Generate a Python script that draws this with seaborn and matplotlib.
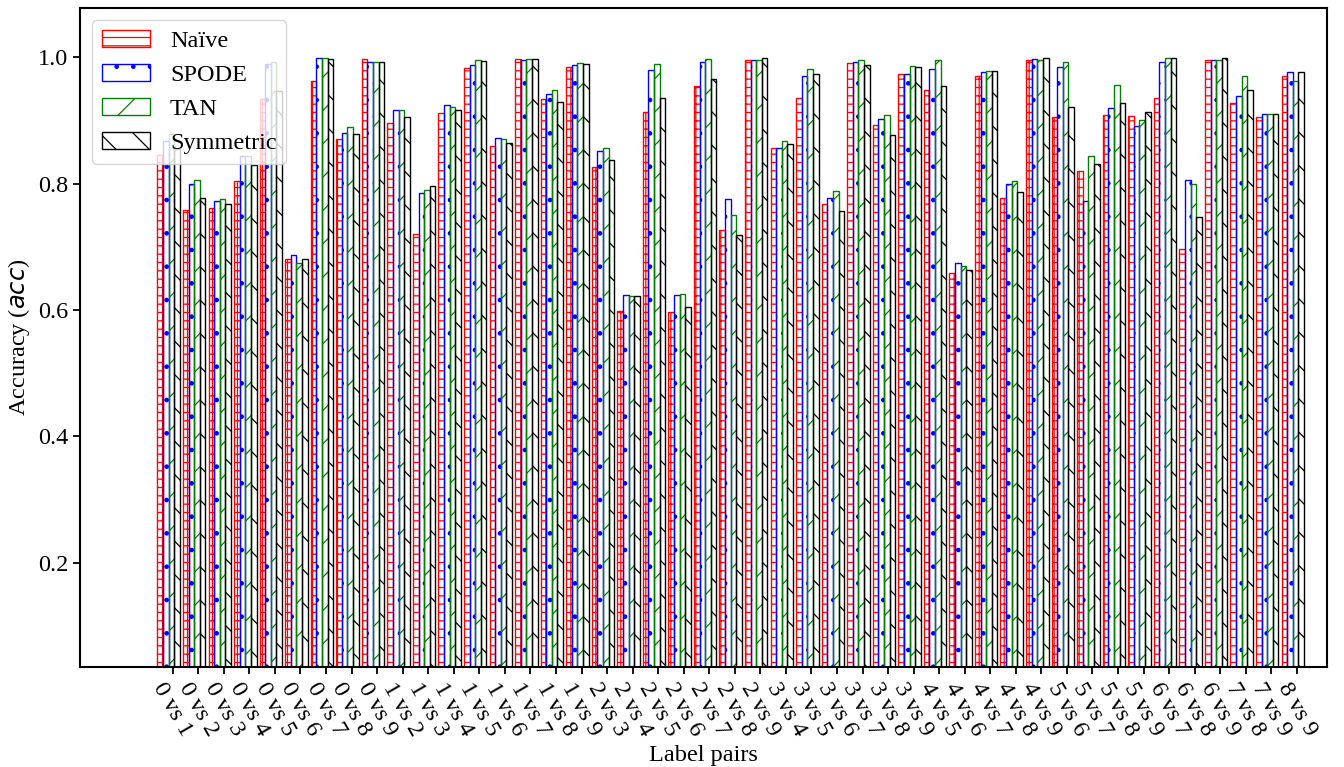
import numpy as np
import pandas as pd
import matplotlib
matplotlib.use("Agg")
import matplotlib.pyplot as plt
import seaborn as sns
from matplotlib.patches import Patch

pairs = ["0 vs 1", "0 vs 2", "0 vs 3", "0 vs 4", "0 vs 5", "0 vs 6", "0 vs 7", "0 vs 8", "0 vs 9",
         "1 vs 2", "1 vs 3", "1 vs 4", "1 vs 5", "1 vs 6", "1 vs 7", "1 vs 8", "1 vs 9",
         "2 vs 3", "2 vs 4", "2 vs 5", "2 vs 6", "2 vs 7", "2 vs 8", "2 vs 9",
         "3 vs 4", "3 vs 5", "3 vs 6", "3 vs 7", "3 vs 8", "3 vs 9",
         "4 vs 5", "4 vs 6", "4 vs 7", "4 vs 8", "4 vs 9",
         "5 vs 6", "5 vs 7", "5 vs 8", "5 vs 9",
         "6 vs 7", "6 vs 8", "6 vs 9",
         "7 vs 8", "7 vs 9",
         "8 vs 9"]

methods = ["Naïve", "SPODE", "TAN", "Symmetric"]

naive = [0.846, 0.759, 0.761, 0.804, 0.934, 0.681, 0.962, 0.871, 0.998, 0.896,
         0.720, 0.912, 0.983, 0.860, 0.998, 0.934, 0.985, 0.826, 0.599, 0.913,
         0.597, 0.954, 0.726, 0.996, 0.857, 0.936, 0.767, 0.991, 0.893, 0.974,
         0.949, 0.658, 0.971, 0.778, 0.996, 0.905, 0.820, 0.909, 0.907, 0.936,
         0.696, 0.995, 0.927, 0.906, 0.971]
spode = [0.867, 0.799, 0.772, 0.843, 0.989, 0.687, 0.999, 0.880, 0.993, 0.917,
         0.785, 0.924, 0.988, 0.872, 0.996, 0.942, 0.988, 0.852, 0.624, 0.980,
         0.623, 0.993, 0.775, 0.996, 0.856, 0.971, 0.778, 0.992, 0.902, 0.973,
         0.981, 0.675, 0.977, 0.799, 0.998, 0.984, 0.772, 0.920, 0.891, 0.992,
         0.805, 0.996, 0.938, 0.911, 0.977]
tan = [0.878, 0.805, 0.776, 0.844, 0.992, 0.674, 0.999, 0.889, 0.993, 0.917,
       0.790, 0.922, 0.996, 0.870, 0.998, 0.949, 0.991, 0.857, 0.622, 0.989,
       0.626, 0.998, 0.751, 0.996, 0.868, 0.982, 0.788, 0.996, 0.908, 0.986,
       0.995, 0.669, 0.979, 0.804, 0.996, 0.992, 0.844, 0.956, 0.900, 0.999,
       0.799, 0.996, 0.970, 0.910, 0.963]
symmetric = [0.855, 0.777, 0.768, 0.830, 0.946, 0.681, 0.998, 0.878, 0.993, 0.906,
             0.796, 0.916, 0.994, 0.864, 0.997, 0.929, 0.990, 0.838, 0.622, 0.935,
             0.605, 0.966, 0.719, 0.999, 0.863, 0.974, 0.756, 0.988, 0.877, 0.984,
             0.955, 0.664, 0.978, 0.786, 0.999, 0.922, 0.831, 0.927, 0.914, 0.999,
             0.747, 0.999, 0.948, 0.910, 0.976]

yticks = [0.2, 0.4, 0.6, 0.8, 1.0]
ytick_labels = ["0.2", "0.4", "0.6", "0.8", "1.0"]

colors = ["red", "blue", "green", "black"]
bar_hatches = ["++", ".", "/", "\\"]
legend_hatches = ["--", ".", "/", "\\"]

plt.rcParams["font.family"] = ["Liberation Serif", "DejaVu Sans"]
plt.rcParams["mathtext.fontset"] = "dejavusans"
plt.rcParams["hatch.linewidth"] = 0.9
FS = 17.5

df = pd.DataFrame({
    "pair": pairs * 4,
    "acc": naive + spode + tan + symmetric,
    "method": sum([[m] * len(pairs) for m in methods], []),
})

fig = plt.figure(figsize=(13.44, 7.67), dpi=100)
ax = fig.add_axes([80 / 1344, 1 - 667 / 767, (1327 - 80) / 1344, (667 - 8) / 767])

sns.barplot(data=df, x="pair", y="acc", hue="method", order=pairs, hue_order=methods,
            palette=colors, width=0.88, errorbar=None, legend=False, ax=ax)

for cont, c, h in zip(ax.containers, colors, bar_hatches):
    for bar in cont:
        bar.set_facecolor("none")
        bar.set_edgecolor(c)
        bar.set_linewidth(1.0)
        bar.set_hatch(h)

ax.set_xlim(-3.47, 45.34)
ax.set_ylim(0.035, 1.078)
ax.set_xticks(np.arange(len(pairs)) + 0.16)
ax.set_xticklabels(pairs, rotation=-60, ha="center", fontsize=FS)
ax.set_yticks(yticks)
ax.set_yticklabels(ytick_labels, fontsize=FS)
ax.tick_params(width=1.3, length=5)
for s in ax.spines.values():
    s.set_linewidth(1.5)
    s.set_color("black")

ax.set_xlabel("Label pairs", fontsize=FS)
ax.set_ylabel("Accuracy ($acc$)", fontsize=FS)

handles = [Patch(facecolor="none", edgecolor=c, hatch=h, linewidth=1.0, label=m)
           for c, h, m in zip(colors, legend_hatches, methods)]
ax.legend(handles=handles, loc="upper left", fontsize=FS, borderaxespad=0.5)

fig.savefig("out.png", dpi=100)
